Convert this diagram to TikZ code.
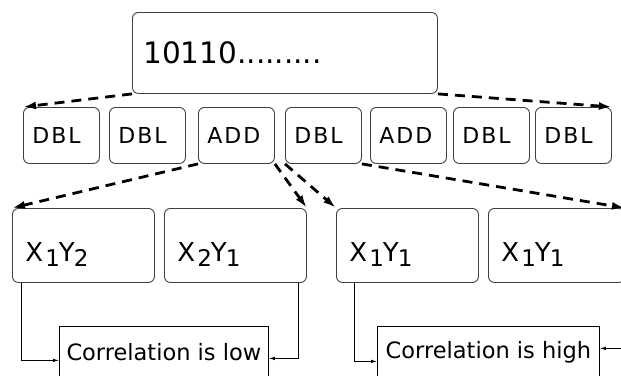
\documentclass[tikz,border=0pt]{standalone}
\usepackage{fontspec}
\setmainfont{DejaVu Sans}
\newfontfamily\opfont[LetterSpace=9]{DejaVu Sans}
\usepackage{tikz}
\usetikzlibrary{positioning, calc, shapes, arrows, arrows.meta, fit}

\newcommand{\pxy}[2]{X\hspace{2pt}\raisebox{-5pt}{\fontsize{23}{23}\selectfont #1}\hspace{-1pt}Y\hspace{-1pt}\raisebox{-5pt}{\fontsize{23}{23}\selectfont #2}}

\begin{document}
\begin{tikzpicture}[x=1pt, y=-1pt,
    rbox/.style={draw=black!75, line width=0.9pt, rounded corners=6pt, anchor=north west, align=left},
    opbox/.style={rbox, text width=58pt, inner xsep=9pt, minimum height=56pt, font=\fontsize{22}{26}\selectfont},
    prodbox/.style={rbox, text width=116pt, inner xsep=13pt, minimum height=74pt, text height=38pt, text depth=6pt, font=\fontsize{26}{30}\selectfont},
    resbox/.style={draw, line width=0.8pt, anchor=north west, minimum height=52pt, font=\fontsize{22.5}{26}\selectfont},
    dashlink/.style={line width=2.8pt, dash pattern=on 10pt off 7pt, -{Latex[length=13pt,width=8pt]}},
    link/.style={line width=0.8pt, -{Latex[length=6pt,width=3.5pt]}}]
    \useasboundingbox (0,0) rectangle (621,375);
    \clip (0,0) rectangle (621,375);

    % scalar
    \node[rbox, text width=283pt, inner xsep=11pt, minimum height=81pt, font=\fontsize{29.5}{34}\selectfont] (key) at (132,12) {10110.........};

    % operations
    \foreach \x/\op/\n in {23/DBL/o1, 109/DBL/o2, 198/ADD/o3, 285/DBL/o4, 370/ADD/o5, 453/DBL/o6, 535/DBL/o7}
        \node[opbox] (\n) at (\x,107) {\opfont \op};

    % products
    \node[prodbox] (p1) at (12,208) {\pxy{1}{2}};
    \node[prodbox] (p2) at (164,208) {\pxy{2}{1}};
    \node[prodbox] (p3) at (336,208) {\pxy{1}{1}};
    \node[prodbox, text width=110pt] (p4) at (488,208) {\pxy{1}{1}};

    % results
    \node[resbox, minimum width=209pt] (low) at (59,326) {Correlation is low};
    \node[resbox, minimum width=222pt] (high) at (377,326) {Correlation is high};
    \coordinate (offright) at (640,0);

    \draw[dashlink] (key.south west) -- (o1.north west);
    \draw[dashlink] (key.south east) -- (o7.north east);
    \draw[dashlink] (o3.south west) -- (p1.north west);
    \draw[dashlink] (o3.south east) -- (p2.north east);
    \draw[dashlink] (o4.south west) -- (p3.north west);
    \draw[dashlink] (o4.south east) -- (p4.north east);

    \draw[link] ([xshift=9pt]p1.south west) |- ([yshift=-8pt]low.west);
    \draw[link] ([xshift=-9pt]p2.south east) |- ([yshift=-6pt]low.east);
    \draw[link] ([xshift=18pt]p3.south west) |- ([yshift=-9pt]high.west);
    \draw[link] ([yshift=4pt]high.east -| offright) -- ([yshift=4pt]high.east);
\end{tikzpicture}
\end{document}
